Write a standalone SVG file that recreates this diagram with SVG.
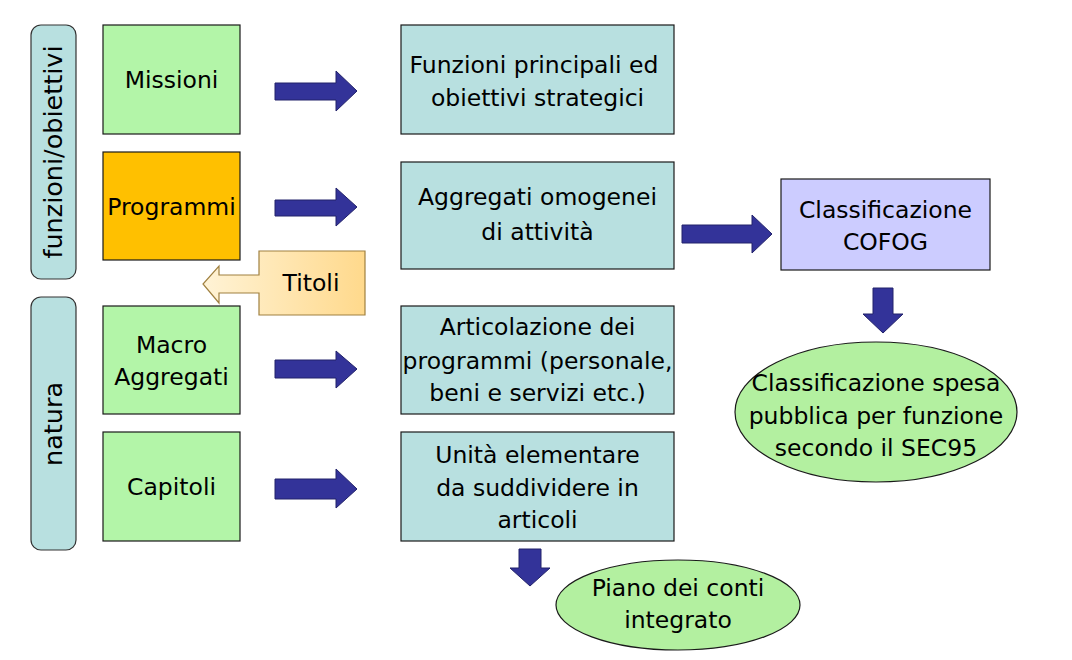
<svg xmlns="http://www.w3.org/2000/svg" width="1072" height="660" viewBox="0 0 1072 660">
<defs>
<linearGradient id="tg" x1="0" y1="0" x2="1" y2="0">
<stop offset="0" stop-color="#fff3d6"/>
<stop offset="1" stop-color="#ffd98c"/>
</linearGradient>
</defs>
<style>
.t{font-family:"DejaVu Sans","Liberation Sans",Arial,sans-serif;font-size:23.5px;fill:#000;text-anchor:middle}
.g{fill:#b3f5a8;stroke:#1a1a1a;stroke-width:1.2}
.c{fill:#b8e0e0;stroke:#1a1a1a;stroke-width:1.2}
.a{fill:#333399;stroke:#22226a;stroke-width:1}
</style>
<rect width="1072" height="660" fill="#fff"/>
<g id="band-funzioni">
<rect x="31" y="25" width="45" height="254" rx="10" fill="#b8e0e0" stroke="#333" stroke-width="1.2"/>
<text class="t" transform="translate(62,152) rotate(-90)" style="font-size:25.5px">funzioni/obiettivi</text>
</g>
<g id="band-natura">
<rect x="31" y="297" width="45" height="253" rx="10" fill="#b8e0e0" stroke="#333" stroke-width="1.2"/>
<text class="t" transform="translate(62,424) rotate(-90)" style="font-size:25.5px">natura</text>
</g>
<g id="missioni"><rect class="g" x="103" y="25" width="137" height="109"/><text class="t" x="171.5" y="88">Missioni</text></g>
<g id="programmi"><rect x="103" y="152" width="137" height="108" fill="#ffc000" stroke="#1a1a1a" stroke-width="1.2"/><text class="t" x="171.5" y="215">Programmi</text></g>
<g id="macro"><rect class="g" x="103" y="306" width="137" height="108"/><text class="t" x="171.5" y="353">Macro</text><text class="t" x="171.5" y="385">Aggregati</text></g>
<g id="capitoli"><rect class="g" x="103" y="432" width="137" height="109"/><text class="t" x="171.5" y="495">Capitoli</text></g>
<g id="funzioni"><rect class="c" x="401" y="25" width="273" height="109"/><text class="t" x="534" y="73">Funzioni principali ed</text><text class="t" x="537.5" y="106">obiettivi strategici</text></g>
<g id="aggregati"><rect class="c" x="401" y="162" width="273" height="107"/><text class="t" x="537.5" y="205">Aggregati omogenei</text><text class="t" x="537.5" y="240">di attività</text></g>
<g id="articolazione"><rect class="c" x="401" y="306" width="273" height="108"/><text class="t" x="537.5" y="335">Articolazione dei</text><text class="t" x="537.5" y="369">programmi (personale,</text><text class="t" x="537.5" y="401">beni e servizi etc.)</text></g>
<g id="unita"><rect class="c" x="401" y="432" width="273" height="109"/><text class="t" x="537.5" y="463">Unità elementare</text><text class="t" x="537.5" y="496">da suddividere in</text><text class="t" x="537.5" y="528">articoli</text></g>
<g id="cofog"><rect x="781" y="179" width="209" height="91" fill="#ccccff" stroke="#1a1a1a" stroke-width="1.2"/><text class="t" x="885.5" y="218">Classificazione</text><text class="t" x="885.5" y="250">COFOG</text></g>
<g id="sec95"><ellipse cx="876" cy="412" rx="141" ry="70" fill="#b3f0a0" stroke="#1a1a1a" stroke-width="1.2"/><text class="t" x="876" y="391">Classificazione spesa</text><text class="t" x="876" y="424">pubblica per funzione</text><text class="t" x="876" y="456">secondo il SEC95</text></g>
<g id="piano"><ellipse cx="678" cy="605" rx="122" ry="45" fill="#b3f0a0" stroke="#1a1a1a" stroke-width="1.2"/><text class="t" x="678" y="596">Piano dei conti</text><text class="t" x="678" y="628">integrato</text></g>
<g id="titoli">
<path d="M365,251 V315 H259 V293 H219 V303 L203,284 L219,266 V275 H259 V251 Z" fill="url(#tg)" stroke="#a08040" stroke-width="1.2"/>
<text class="t" x="311" y="291">Titoli</text>
</g>
<g id="connectors">
<path class="a" d="M275,83 H336 V71 L357,91 L336,111 V100 H275 Z"/>
<path class="a" d="M275,200 H336 V188 L357,207 L336,226 V216 H275 Z"/>
<path class="a" d="M275,360 H336 V351 L357,369 L336,388 V378 H275 Z"/>
<path class="a" d="M275,479 H336 V469 L357,489 L336,508 V499 H275 Z"/>
<path class="a" d="M682,225 H752 V215 L772,234 L752,253 V243 H682 Z"/>
<path class="a" d="M873,288 H893 V314 H903 L883,333 L863,314 H873 Z"/>
<path class="a" d="M519,549 H541 V568 H550 L530,586 L510,568 H519 Z"/>
</g>
</svg>
